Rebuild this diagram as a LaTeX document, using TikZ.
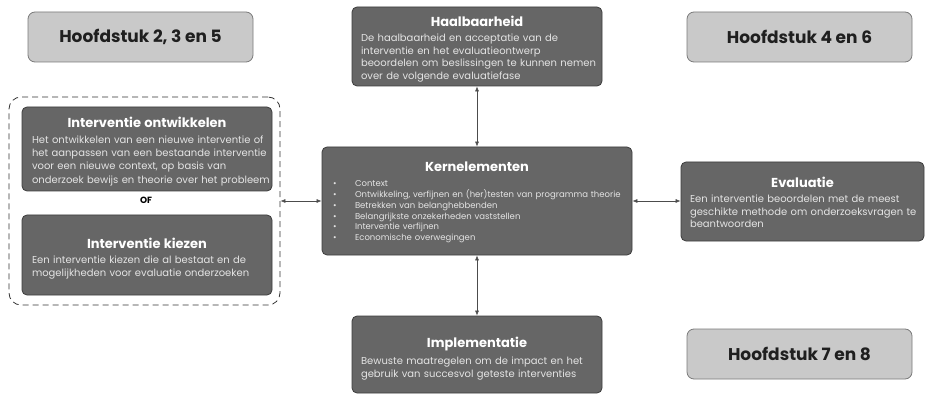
\documentclass[tikz,border=0pt]{standalone}
\usepackage{fontspec}
\setmainfont{Poppins}
\usetikzlibrary{arrows.meta,positioning}
\definecolor{boxgrey}{HTML}{666666}
\definecolor{boxline}{HTML}{3C3C3C}
\definecolor{chapfill}{HTML}{C9C9C9}
\definecolor{chapline}{HTML}{7A7A7A}
\definecolor{bodytxt}{HTML}{E4E4E4}
\newcommand{\boxtitle}[2][6pt]{{\centering\fontsize{13}{16}\selectfont\bfseries\color{white}#2\par}\vspace{#1}}
\newcommand{\boxlines}[1]{\begin{tabular}{@{}l@{}}#1\end{tabular}}
\newcommand{\bul}{\makebox[22pt][l]{\textbullet}}

\begin{document}
\begin{tikzpicture}[x=1pt,y=-1pt,>={Latex[length=5pt,width=4pt]},
  dark/.style={draw=boxline,fill=boxgrey,rounded corners=5pt,line width=0.8pt,inner sep=0pt},
  chap/.style={draw=chapline,fill=chapfill,rounded corners=7pt,line width=0.8pt,inner sep=0pt,
    font=\fontsize{17}{19}\selectfont\bfseries,text=black!88,minimum width=225pt,minimum height=50pt},
  txt/.style={align=left,inner sep=0pt,anchor=north,text=bodytxt,font=\fontsize{10}{12.4}\selectfont},
  link/.style={<->,draw=black!70,line width=0.6pt}]
\useasboundingbox (0,0) rectangle (925,395);
% chapter labels
\node[chap] (ch235) at (140.5,37) {Hoofdstuk 2, 3 en 5};
\node[chap] (ch46) at (799.5,37) {Hoofdstuk 4 en 6};
\node[chap] (ch78) at (799.5,354) {Hoofdstuk 7 en 8};
% left: develop or choose
\node[draw=black!80,dash pattern=on 6pt off 4pt,rounded corners=12pt,line width=0.8pt,inner sep=0pt,
  minimum width=271pt,minimum height=208pt] (choice) at (144.5,201) {};
\node[dark,minimum width=250pt,minimum height=84pt] (ontw) at (147,149) {};
\node[txt,text width=230pt,below=10pt of ontw.north,font=\fontsize{10}{13.2}\selectfont] (ontwtxt) {\boxtitle{Interventie ontwikkelen}\boxlines{Het ontwikkelen van een nieuwe interventie of\\het aanpassen van een bestaande interventie\\voor een nieuwe context, op basis van\\onderzoek bewijs en theorie over het probleem}};
\node[font=\fontsize{9}{10}\selectfont\bfseries] (of) at (146,200) {OF};
\node[dark,minimum width=250pt,minimum height=80pt] (kies) at (147,255) {};
\node[txt,text width=230pt,below=23pt of kies.north] (kiestxt) {\boxtitle{Interventie kiezen}\boxlines{Een interventie kiezen die al bestaat en de\\mogelijkheden voor evaluatie onderzoeken}};
% centre column
\node[dark,minimum width=250pt,minimum height=79pt] (haal) at (477,46.5) {};
\node[txt,text width=232pt,below=9pt of haal.north] (haaltxt) {\boxtitle{Haalbaarheid}\boxlines{De haalbaarheid en acceptatie van de\\interventie en het evaluatieontwerp\\beoordelen om beslissingen te kunnen nemen\\over de volgende evaluatiefase}};
\node[dark,minimum width=310pt,minimum height=108pt] (kern) at (477,201) {};
\node[txt,text width=288pt,below=15pt of kern.north,font=\fontsize{8.5}{10.8}\selectfont] (kerntxt) {\boxtitle[4.5pt]{Kernelementen}\bul Context\\\bul Ontwikkeling, verfijnen en (her)testen van programma theorie\\\bul Betrekken van belanghebbenden\\\bul Belangrijkste onzekerheden vaststellen\\\bul Interventie verfijnen\\\bul Economische overwegingen};
\node[dark,minimum width=250pt,minimum height=77pt] (impl) at (477,354.5) {};
\node[txt,text width=232pt,below=21pt of impl.north] (impltxt) {\boxtitle[4.5pt]{Implementatie}\boxlines{Bewuste maatregelen om de impact en het\\gebruik van succesvol geteste interventies}};
% right
\node[dark,minimum width=243pt,minimum height=79pt] (eval) at (802.5,201.5) {};
\node[txt,text width=225pt,below=15pt of eval.north] (evaltxt) {\boxtitle{Evaluatie}\boxlines{Een interventie beoordelen met de meest\\geschikte methode om onderzoeksvragen te\\beantwoorden}};
% links
\draw[link] (choice.east) -- (kern.west);
\draw[link] (kern.east) -- (kern.east -| eval.west);
\draw[link] (haal) -- (kern);
\draw[link] (kern) -- (impl);
\end{tikzpicture}
\end{document}
